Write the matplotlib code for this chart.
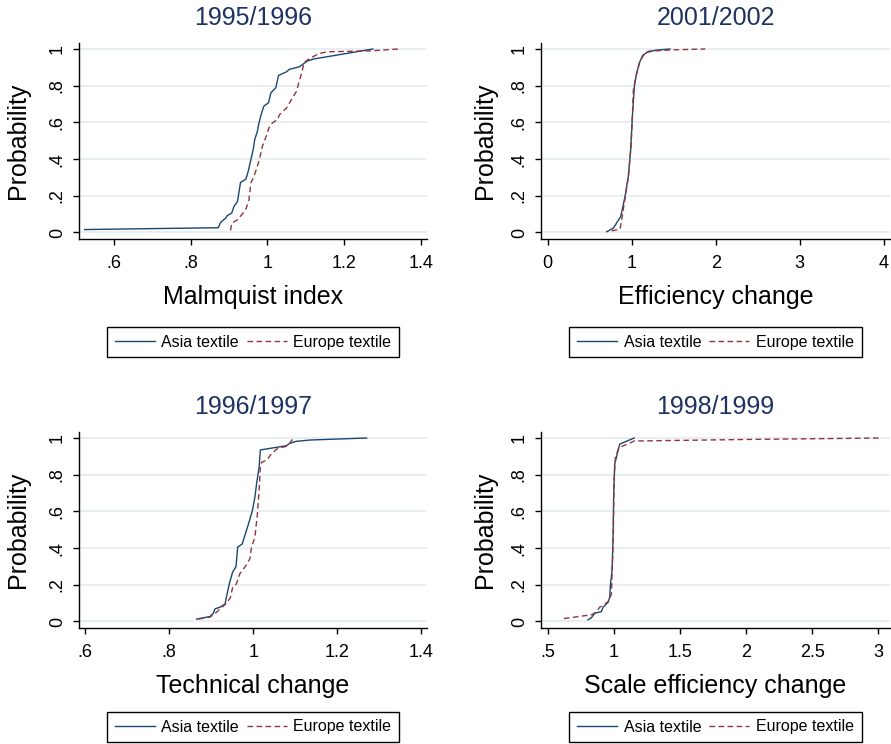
"""Empirical CDFs of productivity changes, Asia vs Europe textile firms."""

import matplotlib
matplotlib.use("Agg")
import matplotlib.pyplot as plt

plt.rcParams['font.family'] = ['Liberation Sans', 'DejaVu Sans']

# 1995/1996 - Malmquist index
malm_asia_x = [0.524, 0.872, 0.878, 0.891, 0.895, 0.907, 0.913, 0.922, 0.930, 0.944,
               0.950, 0.956, 0.963, 0.967, 0.974, 0.978, 0.985, 0.991, 1.003, 1.009,
               1.022, 1.029, 1.050, 1.057, 1.083, 1.104, 1.119, 1.275]
malm_asia_y = [0.016, 0.026, 0.055, 0.078, 0.091, 0.106, 0.142, 0.169, 0.273, 0.291,
               0.333, 0.388, 0.452, 0.506, 0.552, 0.597, 0.652, 0.689, 0.707, 0.761,
               0.789, 0.856, 0.876, 0.889, 0.903, 0.934, 0.945, 1.000]
malm_eur_x = [0.904, 0.907, 0.922, 0.935, 0.945, 0.952, 0.957, 0.965, 0.974, 0.980,
              0.987, 0.997, 1.004, 1.013, 1.026, 1.032, 1.050, 1.063, 1.076, 1.083,
              1.091, 1.095, 1.109, 1.135, 1.156, 1.270, 1.341]
malm_eur_y = [0.011, 0.051, 0.069, 0.102, 0.133, 0.179, 0.270, 0.306, 0.361, 0.406,
              0.470, 0.525, 0.570, 0.597, 0.616, 0.643, 0.679, 0.725, 0.770, 0.825,
              0.880, 0.925, 0.947, 0.976, 0.985, 0.990, 1.000]

# 2001/2002 - Efficiency change
eff_asia_x = [0.702, 0.782, 0.869, 0.921, 0.960, 0.988, 1.008, 1.032, 1.052, 1.091,
              1.131, 1.198, 1.317, 1.456]
eff_asia_y = [0.004, 0.024, 0.087, 0.197, 0.306, 0.452, 0.634, 0.798, 0.852, 0.925,
              0.965, 0.987, 0.995, 1.000]
eff_eur_x = [0.762, 0.861, 0.881, 0.921, 0.960, 0.992, 1.008, 1.020, 1.060, 1.099,
             1.159, 1.258, 1.456, 1.875]
eff_eur_y = [0.009, 0.018, 0.069, 0.188, 0.306, 0.470, 0.634, 0.780, 0.871, 0.934,
             0.980, 0.989, 0.995, 1.000]

# 1996/1997 - Technical change
tech_asia_x = [0.865, 0.897, 0.905, 0.909, 0.921, 0.933, 0.937, 0.944, 0.951, 0.959,
               0.963, 0.974, 0.980, 0.990, 0.998, 1.004, 1.008, 1.014, 1.017, 1.079,
               1.087, 1.103, 1.135, 1.270]
tech_asia_y = [0.013, 0.027, 0.045, 0.069, 0.078, 0.096, 0.142, 0.214, 0.269, 0.299,
               0.405, 0.423, 0.468, 0.541, 0.604, 0.677, 0.750, 0.840, 0.935, 0.958,
               0.971, 0.982, 0.989, 1.000]
tech_eur_x = [0.870, 0.897, 0.913, 0.921, 0.937, 0.946, 0.951, 0.960, 0.968, 0.980,
              0.992, 0.996, 1.004, 1.010, 1.014, 1.017, 1.020, 1.033, 1.040, 1.056,
              1.083, 1.091, 1.097]
tech_eur_y = [0.013, 0.024, 0.051, 0.069, 0.100, 0.132, 0.187, 0.205, 0.260, 0.296,
              0.341, 0.405, 0.459, 0.586, 0.713, 0.840, 0.868, 0.880, 0.904, 0.940,
              0.958, 0.985, 1.000]

# 1998/1999 - Scale efficiency change
scale_asia_x = [0.803, 0.828, 0.854, 0.904, 0.917, 0.955, 0.967, 0.972, 0.985, 0.992,
                0.997, 1.005, 1.018, 1.030, 1.043, 1.152]
scale_asia_y = [0.009, 0.020, 0.045, 0.054, 0.078, 0.105, 0.132, 0.196, 0.278, 0.441,
                0.677, 0.858, 0.895, 0.931, 0.967, 1.000]
scale_eur_x = [0.621, 0.803, 0.828, 0.866, 0.891, 0.929, 0.962, 0.980, 0.987, 0.995,
               1.000, 1.010, 1.038, 1.093, 1.157, 1.182, 1.990, 3.026]
scale_eur_y = [0.016, 0.034, 0.036, 0.051, 0.078, 0.093, 0.114, 0.151, 0.296, 0.495,
               0.768, 0.895, 0.949, 0.964, 0.985, 0.984, 0.992, 1.000]

y_ticks = [0, 0.2, 0.4, 0.6, 0.8, 1]
y_tick_labels = ["0", ".2", ".4", ".6", ".8", "1"]

panels = [
    dict(title="1995/1996", xlabel="Malmquist index",
         asia=(malm_asia_x, malm_asia_y), eur=(malm_eur_x, malm_eur_y),
         xticks=[0.6, 0.8, 1.0, 1.2, 1.4], xticklabels=[".6", ".8", "1", "1.2", "1.4"],
         xlim=(0.509, 1.416), box=(79, 43, 427, 239)),
    dict(title="2001/2002", xlabel="Efficiency change",
         asia=(eff_asia_x, eff_asia_y), eur=(eff_eur_x, eff_eur_y),
         xticks=[0, 1, 2, 3, 4], xticklabels=["0", "1", "2", "3", "4"],
         xlim=(-0.08, 4.075), box=(541, 43, 890, 239)),
    dict(title="1996/1997", xlabel="Technical change",
         asia=(tech_asia_x, tech_asia_y), eur=(tech_eur_x, tech_eur_y),
         xticks=[0.6, 0.8, 1.0, 1.2, 1.4], xticklabels=[".6", ".8", "1", "1.2", "1.4"],
         xlim=(0.585, 1.414), box=(79, 432, 427, 628)),
    dict(title="1998/1999", xlabel="Scale efficiency change",
         asia=(scale_asia_x, scale_asia_y), eur=(scale_eur_x, scale_eur_y),
         xticks=[0.5, 1, 1.5, 2, 2.5, 3], xticklabels=[".5", "1", "1.5", "2", "2.5", "3"],
         xlim=(0.447, 3.089), box=(541, 432, 890, 628)),
]

W, H = 891, 744
fig = plt.figure(figsize=(W / 100, H / 100), dpi=100)

for p in panels:
    left, top, right, bottom = p["box"]
    ax = fig.add_axes([left / W, 1 - bottom / H, (right - left) / W, (bottom - top) / H])
    height_px = bottom - top

    # y-range so that 0 and 1 land where Stata puts them
    ax.set_ylim(-6.5 / 183, 1 + 6 / 183)
    ax.set_xlim(*p["xlim"])

    for y in y_ticks:
        ax.axhline(y, color="#e7eef0", lw=1.3, zorder=0)

    ax.plot(*p["asia"], color="#1a476f", lw=1.0, label="Asia textile")
    ax.plot(*p["eur"], color="#90353b", lw=1.0, ls=(0, (4, 2.5)), label="Europe textile")

    ax.set_xticks(p["xticks"])
    ax.set_xticklabels(p["xticklabels"])
    ax.set_yticks(y_ticks)
    ax.set_yticklabels(y_tick_labels, rotation=90, va="center")
    ax.tick_params(axis="both", direction="out", length=4.5, width=1.0, labelsize=13, color="black")
    ax.tick_params(axis="x", pad=7)
    ax.tick_params(axis="y", pad=5)

    for s in ("top", "right"):
        ax.spines[s].set_visible(False)
    for s in ("left", "bottom"):
        ax.spines[s].set_linewidth(1.0)

    ax.set_title(p["title"], fontsize=18, color="#1f3362", y=1 + 25 / height_px,
                 va="center", pad=0)
    ax.set_xlabel(p["xlabel"], fontsize=18, va="center")
    ax.xaxis.set_label_coords(0.5, -58 / height_px)
    ax.set_ylabel("Probability", fontsize=18, va="center")
    lab_x = (18 - 79) / 348 if left < 300 else (485 - 541) / 349
    ax.yaxis.set_label_coords(lab_x, 0.5)

    leg_y = -103 / height_px if top < 300 else -99 / height_px
    leg = ax.legend(loc="center", bbox_to_anchor=(0.5, leg_y), ncol=2, fontsize=11.5,
                    frameon=True, fancybox=False, edgecolor="black", framealpha=1,
                    handlelength=2.5, handletextpad=0.4, columnspacing=0.5, borderpad=0.5)
    leg.get_frame().set_linewidth(1.0)

fig.savefig("out.png", dpi=100)
